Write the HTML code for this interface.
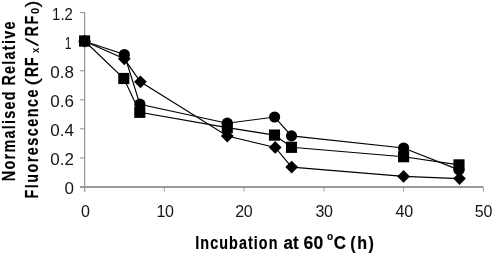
<!DOCTYPE html>
<html><head><meta charset="utf-8"><title>Chart</title>
<style>
html,body{margin:0;padding:0;background:#fff;}
svg{display:block;}
</style></head>
<body>
<svg width="493" height="254" viewBox="0 0 493 254">
<rect width="493" height="254" fill="#fff"/>
<g stroke="#808080" stroke-width="1" fill="none">
<line x1="84.7" y1="12.2" x2="84.7" y2="191.8"/>
<line x1="80" y1="12.65" x2="84.7" y2="12.65" stroke-width="0.9"/>
<line x1="80" y1="41.71" x2="84.7" y2="41.71" stroke-width="0.9"/>
<line x1="80" y1="70.77" x2="84.7" y2="70.77" stroke-width="0.9"/>
<line x1="80" y1="99.83" x2="84.7" y2="99.83" stroke-width="0.9"/>
<line x1="80" y1="128.89" x2="84.7" y2="128.89" stroke-width="0.9"/>
<line x1="80" y1="157.95" x2="84.7" y2="157.95" stroke-width="0.9"/>
</g>
<line x1="80" y1="187" x2="483.4" y2="187" stroke="#9a9a9a" stroke-width="2"/>
<g stroke="#9a9a9a" stroke-width="1" fill="none">
<line x1="164.3" y1="187.5" x2="164.3" y2="191.5"/>
<line x1="244.1" y1="187.5" x2="244.1" y2="191.5"/>
<line x1="323.9" y1="187.5" x2="323.9" y2="191.5"/>
<line x1="403.6" y1="187.5" x2="403.6" y2="191.5"/>
<line x1="483.4" y1="187.5" x2="483.4" y2="191.5"/>
</g>
<g fill="none" stroke="#000" stroke-width="1.15">
<polyline points="84.6,41.2 124.3,58.8 140.4,81.8 227.3,136.0 275.2,147.4 291.7,167.1 403.6,176.4 459.5,178.6"/>
<polyline points="84.6,41.0 123.8,78.5 139.8,112.3 227.3,127.6 274.5,135.1 291.5,147.3 403.6,156.7 459.0,164.9"/>
<polyline points="84.6,41.2 124.3,54.5 139.9,104.2 227.3,123.2 274.6,117.0 291.5,135.9 403.6,148.0 459.0,169.9"/>
</g>
<g fill="#000">
<polygon points="78.2,41.2 84.6,34.8 91.0,41.2 84.6,47.6"/>
<polygon points="117.9,58.8 124.3,52.4 130.7,58.8 124.3,65.2"/>
<polygon points="134.0,81.8 140.4,75.4 146.8,81.8 140.4,88.2"/>
<polygon points="220.9,136.0 227.3,129.6 233.7,136.0 227.3,142.4"/>
<polygon points="268.8,147.4 275.2,141.0 281.6,147.4 275.2,153.8"/>
<polygon points="285.3,167.1 291.7,160.7 298.1,167.1 291.7,173.5"/>
<polygon points="397.2,176.4 403.6,170.0 410.0,176.4 403.6,182.8"/>
<polygon points="453.1,178.6 459.5,172.2 465.9,178.6 459.5,185.0"/>
<rect x="79.05" y="35.40" width="11.1" height="11.2"/>
<rect x="118.25" y="72.90" width="11.1" height="11.2"/>
<rect x="134.25" y="106.70" width="11.1" height="11.2"/>
<rect x="221.75" y="122.00" width="11.1" height="11.2"/>
<rect x="268.95" y="129.50" width="11.1" height="11.2"/>
<rect x="285.95" y="141.70" width="11.1" height="11.2"/>
<rect x="398.05" y="151.10" width="11.1" height="11.2"/>
<rect x="453.45" y="159.30" width="11.1" height="11.2"/>
<circle cx="84.6" cy="41.2" r="5.6"/>
<circle cx="124.3" cy="54.5" r="5.6"/>
<circle cx="139.9" cy="104.2" r="5.6"/>
<circle cx="227.3" cy="123.2" r="5.6"/>
<circle cx="274.6" cy="117.0" r="5.6"/>
<circle cx="291.5" cy="135.9" r="5.6"/>
<circle cx="403.6" cy="148.0" r="5.6"/>
<circle cx="459.0" cy="169.9" r="5.6"/>
</g>
<g font-family="'Liberation Sans', Arial, sans-serif" fill="#151515">
<text transform="translate(72.9,19.8) scale(0.88,1)" font-size="17px" text-anchor="end">1.2</text>
<text transform="translate(71.6,48.8) scale(0.72,1)" font-size="17px" text-anchor="end">1</text>
<text x="74.0" y="77.9" font-size="17px" text-anchor="end">0.8</text>
<text x="74.0" y="106.9" font-size="17px" text-anchor="end">0.6</text>
<text x="74.0" y="136.0" font-size="17px" text-anchor="end">0.4</text>
<text x="74.0" y="165.0" font-size="17px" text-anchor="end">0.2</text>
<text x="74.0" y="194.1" font-size="17px" text-anchor="end">0</text>
<text x="85.3" y="216.6" font-size="16px" letter-spacing="-0.3" text-anchor="middle">0</text>
<text x="165.1" y="216.6" font-size="16px" letter-spacing="-0.3" text-anchor="middle">10</text>
<text x="243.8" y="216.6" font-size="16px" letter-spacing="-0.3" text-anchor="middle">20</text>
<text x="324.0" y="216.6" font-size="16px" letter-spacing="-0.3" text-anchor="middle">30</text>
<text x="404.2" y="216.6" font-size="16px" letter-spacing="-0.3" text-anchor="middle">40</text>
<text x="483.4" y="216.6" font-size="16px" letter-spacing="-0.3" text-anchor="middle">50</text>
</g>
<g font-family="'Liberation Sans', Arial, sans-serif" font-weight="bold" fill="#000" stroke="#000" stroke-width="0.2">
<text transform="translate(195.28,249.1) scale(0.820,1)" font-size="17.5px" letter-spacing="1.31">Incubation</text>
<text transform="translate(283.41,249.1) scale(0.970,1)" font-size="17.5px" letter-spacing="0.10">at</text>
<text transform="translate(303.55,249.1) scale(1.000,1)" font-size="17.5px" letter-spacing="0.10">60</text>
<text transform="translate(326.94,240.2) scale(0.922,1)" font-size="11px" letter-spacing="0.00">o</text>
<text transform="translate(333.77,249.1) scale(0.969,1)" font-size="17.5px" letter-spacing="0.00">C</text>
<text transform="translate(350.28,249.1) scale(0.920,1)" font-size="17.5px" letter-spacing="1.65">(h)</text>
<text transform="translate(14.8,181.22) rotate(-90) scale(0.820,1)" font-size="17.5px" letter-spacing="1.58">Normalised</text>
<text transform="translate(14.8,85.53) rotate(-90) scale(0.820,1)" font-size="17.5px" letter-spacing="1.55">Relative</text>
<text transform="translate(37.5,198.62) rotate(-90) scale(0.820,1)" font-size="17.5px" letter-spacing="1.84">Fluorescence</text>
<text transform="translate(37.5,85.63) rotate(-90) scale(1.333,1)" font-weight="normal" font-size="17.5px" letter-spacing="0.00">(</text>
<text transform="translate(37.5,77.00) rotate(-90) scale(0.800,1)" font-size="17.5px" letter-spacing="1.12">RF</text>
<text transform="translate(38.7,53.10) rotate(-90) scale(0.817,1)" stroke-width="0" font-size="11.5px" letter-spacing="0.00">x</text>
<text transform="translate(37.5,46.46) rotate(-90) scale(1.056,1) skewX(-16)" stroke-width="0" font-size="17.5px" letter-spacing="0.00">/</text>
<text transform="translate(37.5,36.52) rotate(-90) scale(0.820,1)" font-size="17.5px" letter-spacing="2.16">RF</text>
<text transform="translate(39.0,14.08) rotate(-90) scale(0.964,1)" stroke-width="0" font-size="11.5px" letter-spacing="0.00">0</text>
<text transform="translate(37.5,7.59) rotate(-90) scale(1.178,1)" font-weight="normal" font-size="17.5px" letter-spacing="0.00">)</text>
</g>
</svg>
</body></html>
